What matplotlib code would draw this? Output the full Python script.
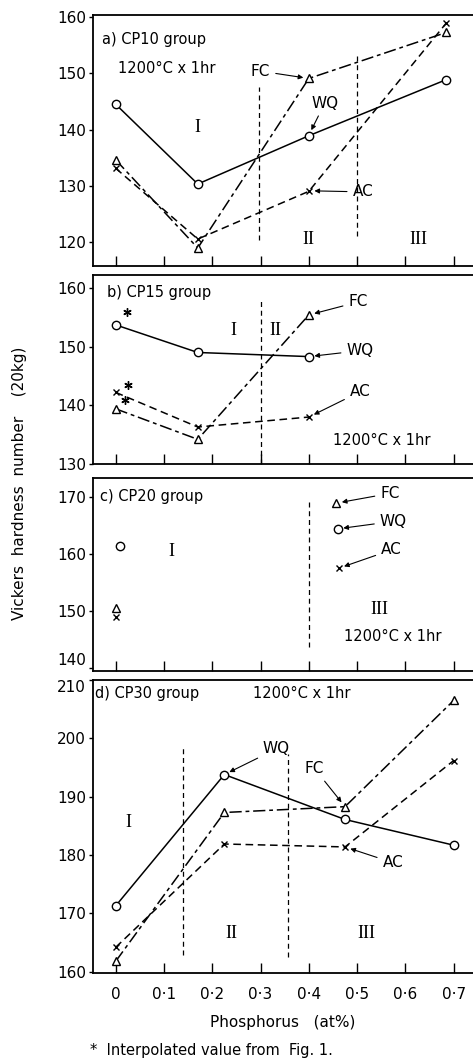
import matplotlib
matplotlib.use("Agg")
import matplotlib.pyplot as plt

# ---- data ----
xa = [0.0, 0.17, 0.40, 0.685]
wq_a = [144.5, 130.3, 138.9, 148.9]
fc_a = [134.6, 118.9, 149.1, 157.3]
ac_a = [133.1, 120.5, 129.0, 159.0]

xb = [0.0, 0.17, 0.40]
wq_b = [153.7, 149.0, 148.3]
fc_b = [139.4, 134.2, 155.4]
ac_b = [142.2, 136.3, 138.0]
star_x_b = [0.023, 0.025, 0.019]
star_y_b = [155.9, 143.5, 140.9]

xc = [0.009, 0.46]
wq_c = [161.4, 164.4]
xc_fc = [0.0, 0.457]
fc_c = [150.6, 168.9]
xc_ac = [0.0, 0.462]
ac_c = [149.0, 157.5]

xd = [0.0, 0.225, 0.475, 0.70]
wq_d = [171.3, 193.8, 186.1, 181.7]
fc_d = [161.8, 187.3, 188.3, 206.5]
ac_d = [164.2, 181.9, 181.4, 196.2]

xticks = [0, 0.1, 0.2, 0.3, 0.4, 0.5, 0.6, 0.7]
xticklabels = ['0', '0·1', '0·2', '0·3', '0·4', '0·5', '0·6', '0·7']

plt.rcParams['font.family'] = 'DejaVu Sans'
fig = plt.figure(figsize=(4.73, 10.64), dpi=100)

H = 1064.0
L = 93 / 473.0
W = 1.0 - L
pos = {
    'a': (15, 266), 'b': (275, 464), 'c': (478, 671), 'd': (680, 973),
}
ylims = {'a': (115.7, 160.4), 'b': (130.0, 162.2), 'c': (139.5, 173.3), 'd': (159.8, 210.0)}
yticks = {'a': [120, 130, 140, 150, 160], 'b': [130, 140, 150, 160],
          'c': [140, 150, 160, 170], 'd': [160, 170, 180, 190, 200, 210]}

FC_LS = (0, (8, 2.5, 2.5, 2.5))
AC_LS = (0, (5, 3))
REG_LS = (0, (4, 3))
k = dict(color='black', lw=1.1, mfc='white', mec='black', mew=1.0)
MS_O, MS_T, MS_X = 6, 5.5, 5

axes = {}
for key in ['a', 'b', 'c', 'd']:
    top, bot = pos[key]
    ax = fig.add_axes([L, 1 - bot / H, W, (bot - top) / H])
    ax.set_xlim(-0.047, 0.740)
    ax.set_ylim(*ylims[key])
    ax.set_yticks(yticks[key])
    ax.set_xticks(xticks)
    ax.spines['right'].set_visible(False)
    for s in ax.spines.values():
        s.set_linewidth(1.3)
    ax.tick_params(axis='x', direction='in', length=7, width=1.0, pad=10, labelsize=11)
    ax.tick_params(axis='y', direction='out', length=3, width=1.0, pad=2, labelsize=11)
    if key != 'd':
        ax.set_xticklabels([])
    else:
        ax.set_xticklabels(xticklabels)
    axes[key] = ax

# keep the 140 (c) and 210 (d) labels apart, as in the original
axes['c'].get_yticklabels()[0].set_va('bottom')
axes['d'].get_yticklabels()[-1].set_va('top')


def reg(ax, x, y0, y1):
    ax.plot([x, x], [y0, y1], color='black', lw=0.9, ls=REG_LS)


def roman(ax, x, y, s):
    ax.text(x, y, s, family='Liberation Serif', fontsize=13, ha='center', va='center')


def lab(ax, s, xy, xytext):
    ax.annotate(s, xy=xy, xytext=xytext, fontsize=11, ha='center', va='center',
                arrowprops=dict(arrowstyle='-|>', color='black', lw=0.8,
                                mutation_scale=7, shrinkA=2, shrinkB=4))


# ---- a) ----
ax = axes['a']
ax.plot(xa, wq_a, ls='-', marker='o', ms=MS_O, **k)
ax.plot(xa, fc_a, ls=FC_LS, marker='^', ms=MS_T, **k)
ax.plot(xa, ac_a, ls=AC_LS, marker='x', ms=MS_X, **k)
reg(ax, 0.296, 120.4, 147.6)
reg(ax, 0.50, 121.0, 153.6)
roman(ax, 0.17, 140.3, 'I')
roman(ax, 0.40, 120.4, 'II')
roman(ax, 0.626, 120.4, 'III')
ax.text(-0.028, 156.1, 'a) CP10 group', fontsize=10.5, va='center')
ax.text(0.005, 150.8, '1200°C x 1hr', fontsize=10.5, va='center')
lab(ax, 'FC', (0.40, 149.1), (0.30, 150.4))
lab(ax, 'WQ', (0.40, 139.0), (0.433, 144.7))
lab(ax, 'AC', (0.40, 129.1), (0.512, 128.9))

# ---- b) ----
ax = axes['b']
ax.plot(xb, wq_b, ls='-', marker='o', ms=MS_O, **k)
ax.plot(xb, fc_b, ls=FC_LS, marker='^', ms=MS_T, **k)
ax.plot(xb, ac_b, ls=AC_LS, marker='x', ms=MS_X, **k)
ax.plot(star_x_b, star_y_b, ls='none', marker=(6, 2, 0), ms=6, color='black', mew=1.0)
reg(ax, 0.30, 130.0, 157.8)
roman(ax, 0.243, 152.8, 'I')
roman(ax, 0.33, 152.8, 'II')
ax.text(-0.018, 159.3, 'b) CP15 group', fontsize=10.5, va='center')
ax.text(0.45, 134.0, '1200°C x 1hr', fontsize=10.5, va='center')
lab(ax, 'FC', (0.40, 155.4), (0.502, 157.6))
lab(ax, 'WQ', (0.40, 148.3), (0.506, 149.3))
lab(ax, 'AC', (0.40, 138.0), (0.506, 142.3))

# ---- c) ----
ax = axes['c']
ax.plot(xc, wq_c, ls='none', marker='o', ms=MS_O, **k)
ax.plot(xc_fc, fc_c, ls='none', marker='^', ms=MS_T, **k)
ax.plot(xc_ac, ac_c, ls='none', marker='x', ms=MS_X, **k)
reg(ax, 0.40, 143.7, 169.2)
roman(ax, 0.116, 160.4, 'I')
roman(ax, 0.547, 150.2, 'III')
ax.text(-0.032, 170.0, 'c) CP20 group', fontsize=10.5, va='center')
ax.text(0.574, 145.5, '1200°C x 1hr', fontsize=10.5, va='center', ha='center')
lab(ax, 'FC', (0.457, 168.9), (0.568, 170.6))
lab(ax, 'WQ', (0.46, 164.4), (0.575, 165.7))
lab(ax, 'AC', (0.462, 157.5), (0.571, 160.7))

# ---- d) ----
ax = axes['d']
ax.plot(xd, wq_d, ls='-', marker='o', ms=MS_O, **k)
ax.plot(xd, fc_d, ls=FC_LS, marker='^', ms=MS_T, **k)
ax.plot(xd, ac_d, ls=AC_LS, marker='x', ms=MS_X, **k)
reg(ax, 0.139, 162.9, 198.3)
reg(ax, 0.356, 162.6, 197.4)
roman(ax, 0.026, 185.5, 'I')
roman(ax, 0.239, 166.6, 'II')
roman(ax, 0.52, 166.6, 'III')
ax.text(-0.043, 207.7, 'd) CP30 group', fontsize=10.5, va='center')
ax.text(0.285, 207.7, '1200°C x 1hr', fontsize=10.5, va='center')
lab(ax, 'WQ', (0.225, 193.8), (0.333, 198.2))
lab(ax, 'FC', (0.475, 188.3), (0.412, 194.8))
lab(ax, 'AC', (0.475, 181.4), (0.574, 178.7))

fig.text(283 / 473.0, 1 - 1022.7 / H, 'Phosphorus   (at%)', fontsize=11, ha='center', va='center')
fig.text(90 / 473.0, 1 - 1050 / H, '*  Interpolated value from  Fig. 1.', fontsize=10.5, ha='left', va='center')
fig.text(20 / 473.0, 1 - 483 / H, 'Vickers  hardness  number    (20kg)', fontsize=11,
         rotation=90, ha='center', va='center')

fig.savefig('out.png', dpi=100)
